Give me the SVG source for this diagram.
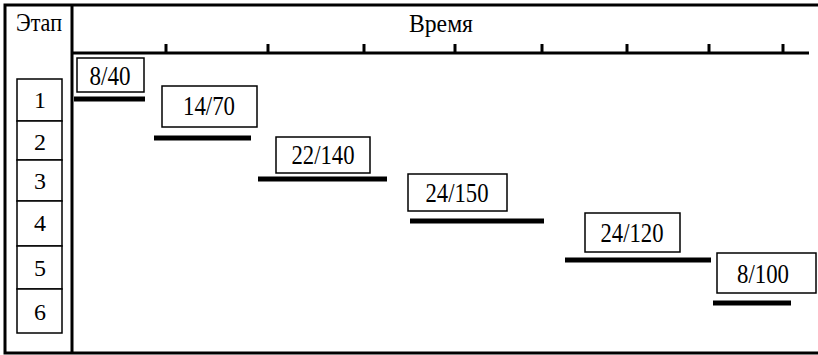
<svg xmlns="http://www.w3.org/2000/svg" width="818" height="355" viewBox="0 0 818 355">
<style>
.lbl{font-size:27px}
.num{font-size:24px}
.hdr{font-size:25px}
.box{fill:#fff;stroke:#000;stroke-width:1.5}
.bar{stroke:#000;stroke-width:5}
.frame{stroke:#000;stroke-width:3;fill:none}
.tick{stroke:#000;stroke-width:3}
</style>
<rect width="818" height="355" fill="#fff"/>
<g font-family="'Liberation Serif', 'Times New Roman', serif" text-anchor="middle" fill="#000">
<g id="frame">
<path class="frame" d="M818 5H5V353H818"/>
<line class="frame" x1="72" y1="5" x2="72" y2="354"/>
<line class="frame" x1="72" y1="53" x2="809" y2="53"/>
<text class="hdr" x="39" y="31" textLength="46" lengthAdjust="spacingAndGlyphs">Этап</text>
<text class="hdr" x="441" y="32" textLength="64" lengthAdjust="spacingAndGlyphs">Время</text>
</g>
<g id="ticks">
<line class="tick" x1="166" y1="44" x2="166" y2="53"/>
<line class="tick" x1="268" y1="44" x2="268" y2="53"/>
<line class="tick" x1="364" y1="44" x2="364" y2="53"/>
<line class="tick" x1="455" y1="44" x2="455" y2="53"/>
<line class="tick" x1="542" y1="44" x2="542" y2="53"/>
<line class="tick" x1="627" y1="44" x2="627" y2="53"/>
<line class="tick" x1="709" y1="44" x2="709" y2="53"/>
<line class="tick" x1="783" y1="44" x2="783" y2="53"/>
</g>
<g id="stages">
<rect class="box" x="17" y="79" width="45" height="42"/>
<rect class="box" x="17" y="121" width="45" height="39"/>
<rect class="box" x="17" y="160" width="45" height="41"/>
<rect class="box" x="17" y="201" width="45" height="45"/>
<rect class="box" x="17" y="246" width="45" height="43"/>
<rect class="box" x="17" y="289" width="45" height="44"/>
<text class="num" x="40" y="108">1</text>
<text class="num" x="40" y="150">2</text>
<text class="num" x="40" y="189">3</text>
<text class="num" x="40" y="231">4</text>
<text class="num" x="40" y="276">5</text>
<text class="num" x="40" y="320">6</text>
</g>
<g id="task1">
<rect class="box" x="77" y="58" width="67" height="34"/>
<text class="lbl" x="110" y="85" textLength="41" lengthAdjust="spacingAndGlyphs">8/40</text>
<line class="bar" x1="74" y1="99" x2="145" y2="99"/>
</g>
<g id="task2">
<rect class="box" x="162" y="86" width="95" height="41"/>
<text class="lbl" x="209" y="115" textLength="52" lengthAdjust="spacingAndGlyphs">14/70</text>
<line class="bar" x1="154" y1="138" x2="251" y2="138"/>
</g>
<g id="task3">
<rect class="box" x="276" y="137" width="94" height="36"/>
<text class="lbl" x="323" y="164" textLength="63" lengthAdjust="spacingAndGlyphs">22/140</text>
<line class="bar" x1="258" y1="179" x2="387" y2="179"/>
</g>
<g id="task4">
<rect class="box" x="408" y="174" width="99" height="37"/>
<text class="lbl" x="457" y="202" textLength="63" lengthAdjust="spacingAndGlyphs">24/150</text>
<line class="bar" x1="410" y1="221" x2="544" y2="221"/>
</g>
<g id="task5">
<rect class="box" x="585" y="213" width="95" height="39"/>
<text class="lbl" x="632" y="242" textLength="63" lengthAdjust="spacingAndGlyphs">24/120</text>
<line class="bar" x1="565" y1="260" x2="711" y2="260"/>
</g>
<g id="task6">
<rect class="box" x="717" y="253" width="99" height="40"/>
<text class="lbl" x="763" y="283" textLength="52" lengthAdjust="spacingAndGlyphs">8/100</text>
<line class="bar" x1="713" y1="303" x2="791" y2="303"/>
</g>
</g>
</svg>
